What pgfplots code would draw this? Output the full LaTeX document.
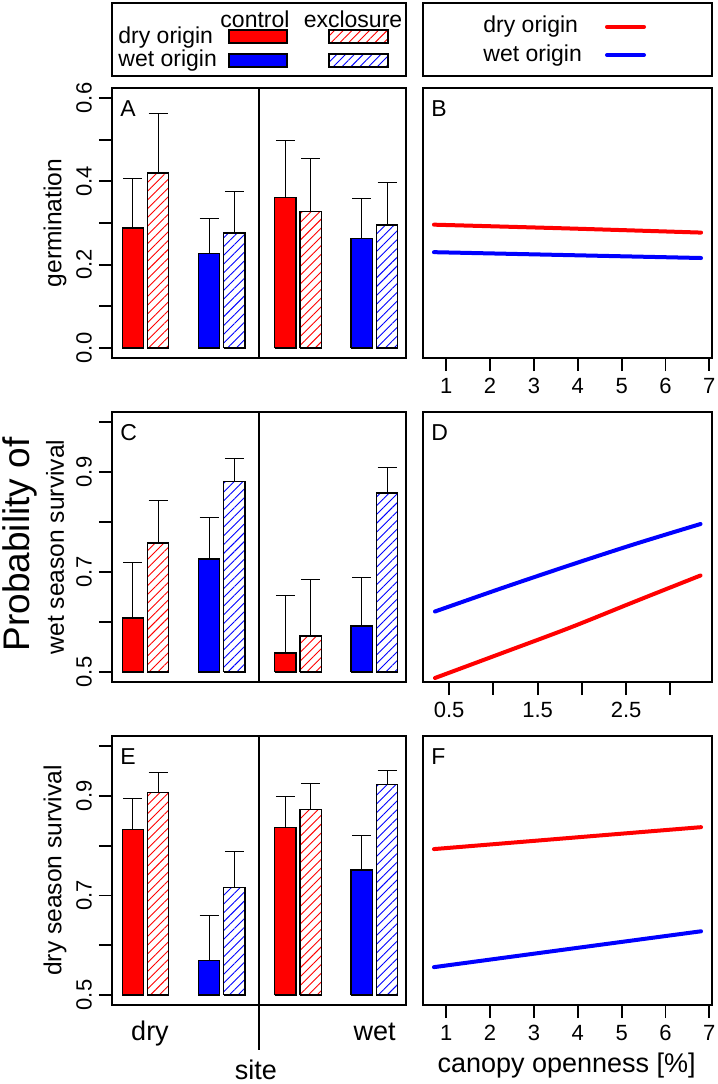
\documentclass[border=0pt]{standalone}
\usepackage{fontspec}
\setmainfont{Liberation Sans}
\usepackage{pgfplots}
\pgfplotsset{compat=1.18}
\usetikzlibrary{patterns.meta}
\definecolor{rred}{RGB}{255,0,0}
\definecolor{rblue}{RGB}{0,0,255}
\newcommand{\fs}[1]{\fontsize{#1}{#1}\selectfont}
% bar: left, right, base, top, style
\newcommand{\bbar}[5]{\addplot[#5] coordinates {(#1,#3) (#1,#4) (#2,#4) (#2,#3) (#1,#3)};}
% error bar: capleft, capright, centre, top of bar, upper end
\newcommand{\ebar}[5]{\addplot[ebar] coordinates {(#1,#5) (#2,#5)};\addplot[ebar] coordinates {(#3,#4) (#3,#5)};}
% tick marks drawn as short plots
\newcommand{\ytk}[1]{\addplot[tk] coordinates {(112,#1) (99,#1)};}
\newcommand{\xtk}[3]{\addplot[tk] coordinates {(#1,#2) (#1,#3)};}
\tikzset{
  hatch/.style={pattern={Lines[angle=45,distance=3.1pt,line width=0.45pt]}},
}
\pgfplotsset{
  common/.style={scale only axis, anchor=north west, clip=false,
    axis line style={line width=1pt},
    tick align=outside, major tick length=6.5pt,
    tick style={draw=black, line width=0.8pt},
    /pgf/number format/assume math mode=true,
    tick label style={font=\fs{11}}},
  barpanel/.style={common, width=147pt, xmin=112, xmax=406, xtick=\empty,
    ytick pos=left, yticklabel style={rotate=90, anchor=south}},
  linepanel/.style={common, width=144.5pt, ytick=\empty, xtick pos=bottom},
  cR/.style={draw=black, line width=0.6pt, fill=rred},
  cB/.style={draw=black, line width=0.6pt, fill=rblue},
  hR/.style={draw=black, line width=0.6pt, hatch, pattern color=rred},
  hB/.style={draw=black, line width=0.6pt, hatch, pattern color=rblue},
  ebar/.style={black, line width=0.5pt, mark=none},
  tk/.style={black, line width=0.9pt, mark=none},
  cvR/.style={rred, line width=2pt, line cap=round, mark=none, smooth},
  cvB/.style={rblue, line width=2pt, line cap=round, mark=none, smooth},
}
\begin{document}
\begin{tikzpicture}
\path[use as bounding box] (0pt,0pt) rectangle (359pt,-542pt);

% ---------- legends ----------
\draw[line width=1pt] (56pt,-1.5pt) rectangle (203pt,-38pt);
\node[font=\fs{11.5}] at (127.5pt,-9.4pt) {control};
\node[font=\fs{11.5}] at (176.5pt,-9.4pt) {exclosure};
\node[anchor=west, inner sep=0pt, font=\fs{11.5}] at (59pt,-18.75pt) {dry origin};
\node[anchor=west, inner sep=0pt, font=\fs{11.5}] at (59pt,-30.4pt) {wet origin};
\draw[fill=rred, draw=black, line width=0.6pt] (114.5pt,-15pt) rectangle (143.5pt,-21.5pt);
\draw[fill=rblue, draw=black, line width=0.6pt] (114.5pt,-27pt) rectangle (143.5pt,-33.5pt);
\draw[hatch, pattern color=rred, draw=black, line width=0.6pt] (164.5pt,-15pt) rectangle (194pt,-21.5pt);
\draw[hatch, pattern color=rblue, draw=black, line width=0.6pt] (164.5pt,-27pt) rectangle (194pt,-33.5pt);

\draw[line width=1pt] (211.5pt,-1.5pt) rectangle (356pt,-38pt);
\node[anchor=west, inner sep=0pt, font=\fs{11.5}] at (241.5pt,-13.4pt) {dry origin};
\node[anchor=west, inner sep=0pt, font=\fs{11.5}] at (241.5pt,-27.6pt) {wet origin};
\draw[rred, line width=2pt, line cap=round] (303.5pt,-13.4pt) -- (322pt,-13.4pt);
\draw[rblue, line width=2pt, line cap=round] (303.5pt,-27.5pt) -- (322pt,-27.5pt);

% ---------- outer labels ----------
\node[rotate=90, font=\fs{18.5}] at (10pt,-272.25pt) {Probability of};
\node[rotate=90, font=\fs{12.3}] at (27.5pt,-111.5pt) {germination};
\node[rotate=90, font=\fs{12.3}] at (27.5pt,-273.5pt) {wet season survival};
\node[rotate=90, font=\fs{12.3}] at (27.5pt,-435.25pt) {dry season survival};
\node[anchor=base, font=\fs{13.5}] at (75pt,-520pt) {dry};
\node[anchor=base, font=\fs{13.5}] at (187.3pt,-520pt) {wet};
\node[anchor=base, font=\fs{13.5}] at (128pt,-539.5pt) {site};
\node[anchor=base, font=\fs{13.5}] at (283.3pt,-536pt) {canopy openness [\%]};

% ---------- A ----------
\begin{axis}[barpanel, at={(56pt,-44pt)}, height=135pt,
  ymin=-0.024, ymax=0.624, ytick={0,0.1,0.2,0.3,0.4,0.5,0.6},
  yticklabels={0.0,,0.2,,0.4,,0.6}]
\bbar{122.15}{143.45}{0}{0.288}{cR}
\bbar{147.45}{168.75}{0}{0.420}{hR}
\bbar{198.45}{219.75}{0}{0.226}{cB}
\bbar{223.75}{245.05}{0}{0.276}{hB}
\bbar{274.75}{296.05}{0}{0.362}{cR}
\bbar{300.05}{321.35}{0}{0.327}{hR}
\bbar{351.05}{372.35}{0}{0.263}{cB}
\bbar{376.35}{397.65}{0}{0.295}{hB}
\ebar{123.3}{142.3}{132.8}{0.288}{0.408}
\ebar{148.6}{167.6}{158.1}{0.420}{0.562}
\ebar{199.6}{218.6}{209.1}{0.226}{0.312}
\ebar{224.9}{243.9}{234.4}{0.276}{0.376}
\ebar{275.9}{294.9}{285.4}{0.362}{0.498}
\ebar{301.2}{320.2}{310.7}{0.327}{0.454}
\ebar{352.2}{371.2}{361.7}{0.263}{0.360}
\ebar{377.5}{396.5}{387.0}{0.295}{0.398}
\addplot[black, line width=1pt, mark=none] coordinates {(259.5,-0.024) (259.5,0.624)};
\ytk{0}\ytk{0.1}\ytk{0.2}\ytk{0.3}\ytk{0.4}\ytk{0.5}\ytk{0.6}
\node[anchor=north west, inner sep=0pt, font=\fs{11.5}] at ([xshift=4pt,yshift=-6pt]rel axis cs:0,1) {A};
\end{axis}

% ---------- B ----------
\begin{axis}[linepanel, at={(211.5pt,-44pt)}, height=135pt,
  xmin=0.47, xmax=7.06, ymin=-0.024, ymax=0.624, xtick={1,2,3,4,5,6,7}]
\addplot[cvR] coordinates {(0.72,0.296) (3.76,0.287) (6.81,0.277)};
\addplot[cvB] coordinates {(0.72,0.230) (3.76,0.223) (6.81,0.216)};
\xtk{1}{-0.024}{-0.0552}\xtk{2}{-0.024}{-0.0552}\xtk{3}{-0.024}{-0.0552}\xtk{4}{-0.024}{-0.0552}
\xtk{5}{-0.024}{-0.0552}\xtk{6}{-0.024}{-0.0552}\xtk{7}{-0.024}{-0.0552}
\node[anchor=north west, inner sep=0pt, font=\fs{11.5}] at ([xshift=4pt,yshift=-6pt]rel axis cs:0,1) {B};
\end{axis}

% ---------- C ----------
\begin{axis}[barpanel, at={(56pt,-206pt)}, height=135pt,
  ymin=0.48, ymax=1.02, ytick={0.5,0.6,0.7,0.8,0.9,1.0},
  yticklabels={0.5,,0.7,,0.9,}]
\bbar{122.15}{143.45}{0.5}{0.608}{cR}
\bbar{147.45}{168.75}{0.5}{0.758}{hR}
\bbar{198.45}{219.75}{0.5}{0.726}{cB}
\bbar{223.75}{245.05}{0.5}{0.881}{hB}
\bbar{274.75}{296.05}{0.5}{0.538}{cR}
\bbar{300.05}{321.35}{0.5}{0.572}{hR}
\bbar{351.05}{372.35}{0.5}{0.592}{cB}
\bbar{376.35}{397.65}{0.5}{0.858}{hB}
\ebar{123.3}{142.3}{132.8}{0.608}{0.720}
\ebar{148.6}{167.6}{158.1}{0.758}{0.844}
\ebar{199.6}{218.6}{209.1}{0.726}{0.810}
\ebar{224.9}{243.9}{234.4}{0.881}{0.927}
\ebar{275.9}{294.9}{285.4}{0.538}{0.653}
\ebar{301.2}{320.2}{310.7}{0.572}{0.686}
\ebar{352.2}{371.2}{361.7}{0.592}{0.689}
\ebar{377.5}{396.5}{387.0}{0.858}{0.909}
\addplot[black, line width=1pt, mark=none] coordinates {(259.5,0.48) (259.5,1.02)};
\ytk{0.5}\ytk{0.6}\ytk{0.7}\ytk{0.8}\ytk{0.9}\ytk{1.0}
\node[anchor=north west, inner sep=0pt, font=\fs{11.5}] at ([xshift=4pt,yshift=-6pt]rel axis cs:0,1) {C};
\end{axis}

% ---------- D ----------
\begin{axis}[linepanel, at={(211.5pt,-206pt)}, height=135pt,
  xmin=0.205, xmax=3.47, ymin=0.48, ymax=1.02,
  xtick={0.5,1,1.5,2,2.5,3}, xticklabels={0.5,,1.5,,2.5,}]
\addplot[cvR] coordinates {(0.34,0.488) (1.1,0.538) (1.87,0.589) (2.6,0.641) (3.34,0.693)};
\addplot[cvB] coordinates {(0.34,0.621) (1.1,0.668) (1.87,0.714) (2.6,0.756) (3.34,0.796)};
\xtk{0.5}{0.48}{0.454}\xtk{1}{0.48}{0.454}\xtk{1.5}{0.48}{0.454}
\xtk{2}{0.48}{0.454}\xtk{2.5}{0.48}{0.454}\xtk{3}{0.48}{0.454}
\node[anchor=north west, inner sep=0pt, font=\fs{11.5}] at ([xshift=4pt,yshift=-6pt]rel axis cs:0,1) {D};
\end{axis}

% ---------- E ----------
\begin{axis}[barpanel, at={(56pt,-368pt)}, height=134.5pt,
  ymin=0.48, ymax=1.02, ytick={0.5,0.6,0.7,0.8,0.9,1.0},
  yticklabels={0.5,,0.7,,0.9,}]
\bbar{122.15}{143.45}{0.5}{0.833}{cR}
\bbar{147.45}{168.75}{0.5}{0.907}{hR}
\bbar{198.45}{219.75}{0.5}{0.570}{cB}
\bbar{223.75}{245.05}{0.5}{0.716}{hB}
\bbar{274.75}{296.05}{0.5}{0.837}{cR}
\bbar{300.05}{321.35}{0.5}{0.873}{hR}
\bbar{351.05}{372.35}{0.5}{0.751}{cB}
\bbar{376.35}{397.65}{0.5}{0.923}{hB}
\ebar{123.3}{142.3}{132.8}{0.833}{0.895}
\ebar{148.6}{167.6}{158.1}{0.907}{0.946}
\ebar{199.6}{218.6}{209.1}{0.570}{0.659}
\ebar{224.9}{243.9}{234.4}{0.716}{0.789}
\ebar{275.9}{294.9}{285.4}{0.837}{0.899}
\ebar{301.2}{320.2}{310.7}{0.873}{0.924}
\ebar{352.2}{371.2}{361.7}{0.751}{0.821}
\ebar{377.5}{396.5}{387.0}{0.923}{0.950}
\addplot[black, line width=1pt, mark=none] coordinates {(259.5,1.02) (259.5,0.39)};
\ytk{0.5}\ytk{0.6}\ytk{0.7}\ytk{0.8}\ytk{0.9}\ytk{1.0}
\node[anchor=north west, inner sep=0pt, font=\fs{11.5}] at ([xshift=4pt,yshift=-6pt]rel axis cs:0,1) {E};
\end{axis}

% ---------- F ----------
\begin{axis}[linepanel, at={(211.5pt,-368pt)}, height=134.5pt,
  xmin=0.47, xmax=7.06, ymin=0.48, ymax=1.02, xtick={1,2,3,4,5,6,7}]
\addplot[cvR] coordinates {(0.72,0.793) (3.76,0.815) (6.81,0.837)};
\addplot[cvB] coordinates {(0.72,0.556) (3.76,0.592) (6.81,0.628)};
\xtk{1}{0.48}{0.454}\xtk{2}{0.48}{0.454}\xtk{3}{0.48}{0.454}\xtk{4}{0.48}{0.454}
\xtk{5}{0.48}{0.454}\xtk{6}{0.48}{0.454}\xtk{7}{0.48}{0.454}
\node[anchor=north west, inner sep=0pt, font=\fs{11.5}] at ([xshift=4pt,yshift=-6pt]rel axis cs:0,1) {F};
\end{axis}
\end{tikzpicture}
\end{document}
